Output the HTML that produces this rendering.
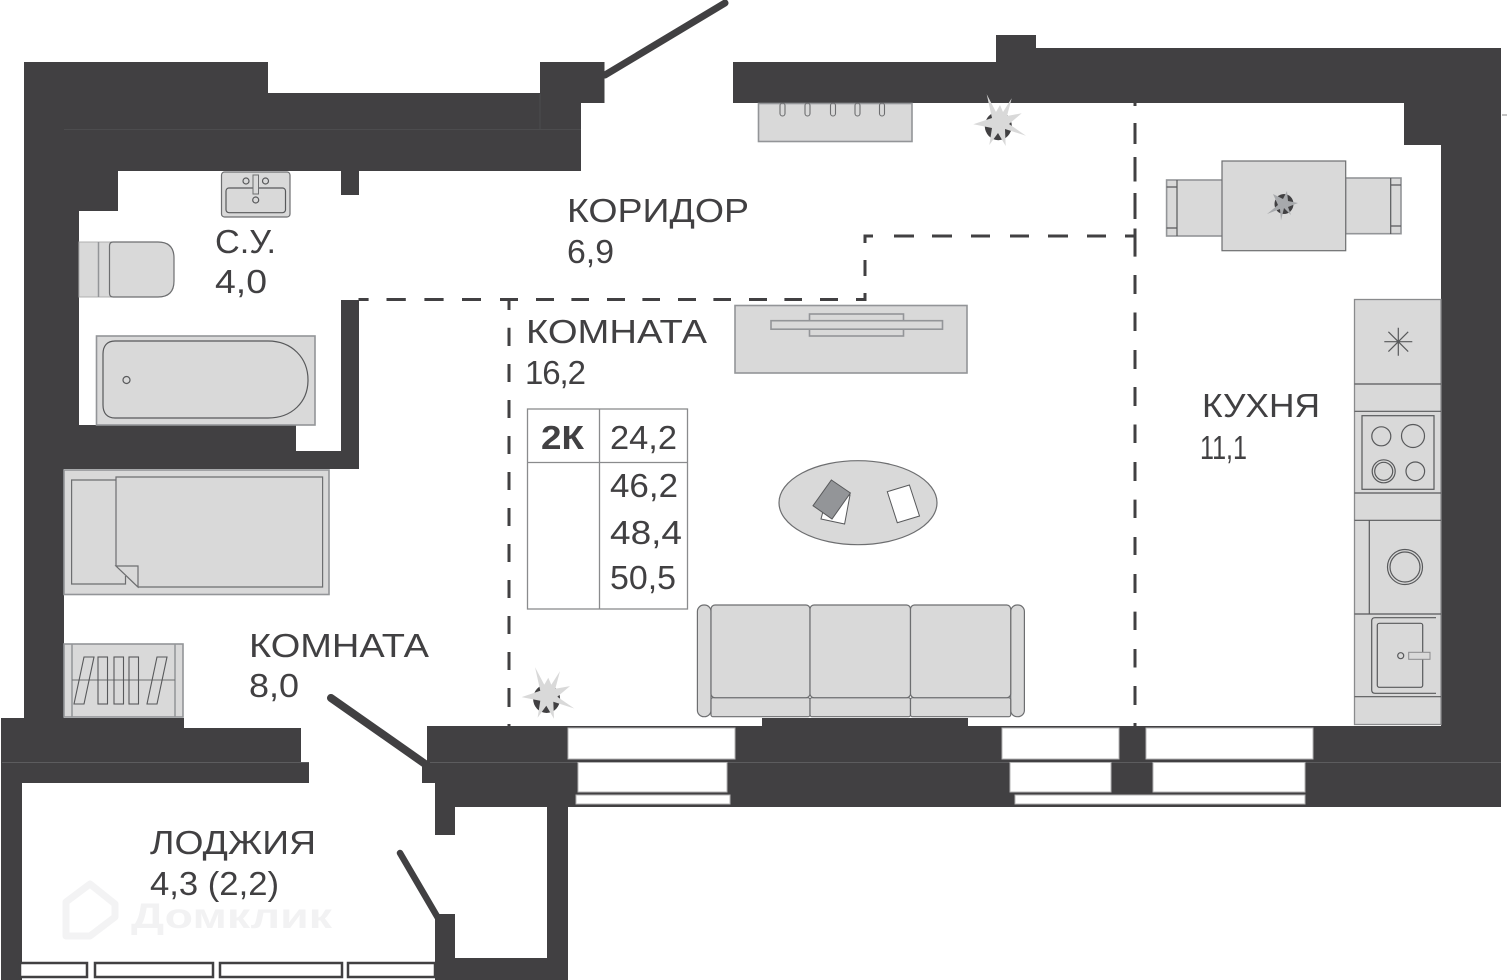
<!DOCTYPE html>
<html lang="ru">
<head>
<meta charset="utf-8">
<title>План квартиры</title>
<style>
html,body{margin:0;padding:0;background:#fff;width:1507px;height:980px;overflow:hidden}
svg{display:block}
text{font-family:"Liberation Sans","DejaVu Sans",sans-serif;fill:#414042;font-size:33px}
.f{fill:#d9d9d9;stroke:#6d6e70;stroke-width:1.2}
.l{fill:none;stroke:#58595b;stroke-width:1.2}
.e{fill:#d9d9d9;stroke:#939598;stroke-width:1.6}
.w{fill:#fff;stroke:#b5b5b5;stroke-width:1}
.d{fill:none;stroke:#414042;stroke-width:3}
</style>
</head>
<body>
<svg width="1507" height="980" viewBox="0 0 1507 980" xmlns="http://www.w3.org/2000/svg">
<!-- doors -->
<path d="M605 75L725 3" stroke="#414042" stroke-width="7" stroke-linecap="round" fill="none"/>
<path d="M331 698L428 766" stroke="#414042" stroke-width="8" stroke-linecap="round" fill="none"/>
<path d="M400 853L438 918" stroke="#414042" stroke-width="6.5" stroke-linecap="round" fill="none"/>

<!-- walls -->
<path fill="#414042" d="M24 62H268V93H540V62H604.5V103H581V171H359V195H341V171H118V211H79V425H296V451H341V300H359V469H64V718H184V728H301V762H309V783H22V980H1V718H24Z"/>
<path fill="#414042" d="M733 62H996V35H1036V48H1501V807H568V980H435V914H455V958H547V807H455V835H435V783H422V762H427V726H762V718H968V726H1441V145H1404V103H733Z"/>
<path d="M64 129.500H581M540 94V129" stroke="#4c4c4e" stroke-width="1" fill="none"/>
<path d="M2 762.500H309M430 762.500H1501" stroke="#5c5c5e" stroke-width="1" fill="none"/>
<path d="M1502 115H1507" stroke="#8a8a8a" stroke-width="1"/>

<!-- windows -->
<rect class="w" x="568" y="728" width="167" height="31"/>
<rect class="w" x="1002" y="728" width="117" height="31"/>
<rect class="w" x="1146" y="728" width="167" height="31"/>
<rect class="w" x="578" y="762.500" width="149" height="29.500"/>
<rect class="w" x="1010" y="762.500" width="101" height="29.500"/>
<rect class="w" x="1153" y="762.500" width="152" height="29.500"/>
<rect class="w" x="576" y="795" width="154" height="9"/>
<rect class="w" x="1015" y="795" width="290" height="9"/>

<!-- loggia windows -->
<g fill="#fff" stroke="#414042" stroke-width="2.500">
<rect x="20" y="963" width="67" height="14"/>
<rect x="95" y="963" width="118" height="14"/>
<rect x="220" y="963" width="122" height="14"/>
<rect x="348" y="963" width="87" height="14"/>
</g>

<!-- dashed partitions -->
<path class="d" d="M358.500 299.500H368.600M386.500 299.500H405.800M424.400 299.500H443.600M462 299.500H481M500 299.500H518M536 299.500H554M571.400 299.500H589M607 299.500H625M642.400 299.500H660M678 299.500H696M713.400 299.500H731M749 299.500H767M784.400 299.500H802M820 299.500H838M856 299.500H866.500"/>
<path class="d" d="M865 300V293M865 276V260M865 243V236H873"/>
<path class="d" d="M894 236H914M932 236H952M971 236H990M1010 236H1029M1048 236H1068M1087 236H1106M1125 236H1135"/>
<path class="d" d="M1135 103V106M1135 123V144M1135 157V181.500M1135 193V219M1135 228.500V256.600M1135 275V294M1135 312.500V331M1135 350V369M1135 387V406M1135 424.500V443M1135 462V481M1135 499.600V518M1135 537V555M1135 574V593M1135 611.600V630M1135 649V667.500M1135 686V705M1135 723V726"/>
<path class="d" d="M509 300V310M509 327.700V346M509 364V382M509 400V418M509 436V454M509 472V490M509 508V526M509 544V562M509 580V598M509 616V634M509 652V670M509 688V707M509 724V726"/>

<!-- sink -->
<rect class="f" x="221.500" y="172" width="68.500" height="45" rx="3"/>
<rect class="l" x="226" y="188" width="59.500" height="24.700" rx="3"/>
<rect x="253" y="175" width="5.500" height="19" fill="#d9d9d9" stroke="#6d6e70"/>
<circle class="l" cx="246" cy="181" r="3"/><circle class="l" cx="265.500" cy="181" r="3"/><circle class="l" cx="255.700" cy="200" r="3"/>

<!-- toilet -->
<rect x="79" y="242" width="40" height="55" fill="#d9d9d9" stroke="#b0b0b0"/>
<path d="M98.500 242V297" stroke="#939598" stroke-width="1.500"/>
<path class="f" d="M113 242H158Q174 242 174 258V281Q174 297 158 297H113Q109.500 297 109.500 293V246Q109.500 242 113 242Z"/>

<!-- bath -->
<rect class="e" x="96.500" y="336" width="218.500" height="89"/>
<path class="l" d="M115 341H268C292 341 308 358 308 380C308 402 292 418 268 418H115C107 418 103 413 103 405V354C103 346 107 341 115 341Z"/>
<circle class="l" cx="126.500" cy="380" r="3.500"/>

<!-- bed -->
<rect class="e" x="64" y="470" width="265" height="124.500"/>
<path class="f" d="M116 480H71.600V584H125.500V576"/>
<path class="f" d="M116 477H322.600V587H138L116 566Z"/>
<path class="f" d="M116 566H138V587Z"/>

<!-- dryer -->
<rect class="e" x="64" y="644" width="119" height="73"/>
<path d="M72 644V717M175 644V717" stroke="#939598" stroke-width="1.500"/>
<path d="M72 680H175" stroke="#6d6e70" stroke-width="1"/>
<g fill="none" stroke="#58595b" stroke-width="1.100">
<path d="M84 657H94L84 704H74Z"/>
<rect x="98" y="657" width="9.500" height="47"/>
<rect x="114" y="657" width="9.500" height="47"/>
<rect x="129" y="657" width="9.500" height="47"/>
<path d="M157 657H167L157 704H147Z"/>
</g>

<!-- shelf -->
<rect class="e" x="758.500" y="103.500" width="153.500" height="38"/>
<g fill="none" stroke="#6d6e70" stroke-width="1.100">
<rect x="780" y="103" width="5" height="13" rx="2.500"/>
<rect x="805" y="103" width="5" height="13" rx="2.500"/>
<rect x="830.500" y="103" width="5" height="13" rx="2.500"/>
<rect x="855" y="103" width="5" height="13" rx="2.500"/>
<rect x="879.500" y="103" width="5" height="13" rx="2.500"/>
</g>

<!-- plants -->
<ellipse cx="998.300" cy="126" rx="13.500" ry="14.200" fill="#414042"/>
<path fill="#d9d9d9" d="M986.700 94.300L996 112L1000 105L1003 112L1011.700 98.300L1007 116L1021.700 113.300L1009 124L1026 135.700L1005 129L1005.700 146L998 133L989.300 145L992 128L973.300 124.300L992 118Z"/>
<ellipse cx="546.600" cy="698.800" rx="13.500" ry="14.200" fill="#414042"/>
<path fill="#d9d9d9" d="M535 667.100L544.300 684.800L548.300 677.800L551.300 684.800L560 671.100L555.300 688.800L570 686.100L557.300 696.800L574.300 708.500L553.300 701.800L554 718.800L546.300 705.800L537.600 717.800L540.300 700.800L521.600 697.100L540.300 690.800Z"/>

<!-- dining set -->
<rect class="e" x="1166.600" y="180" width="56" height="56" stroke="#6d6e70"/>
<path class="l" d="M1177 180V236M1166.600 187H1177M1166.600 228H1177"/>
<rect class="e" x="1345.500" y="178" width="55.500" height="55.700"/>
<path class="l" d="M1390.700 178V234M1390.700 185H1401M1390.700 226H1401"/>
<rect class="f" x="1222" y="161" width="123.700" height="89.700"/>
<ellipse cx="1284" cy="204" rx="9.500" ry="10" fill="#414042"/>
<path fill="#a7a9ac" d="M1273 194L1283 199L1287 191L1288 201L1298 203L1288 207L1291 215L1284 208L1281 220.500L1280 209L1267 214L1278 205Z"/>

<!-- tv -->
<rect class="e" x="735" y="305.500" width="232" height="67.500" stroke="#6d6e70"/>
<rect class="e" x="809.500" y="314" width="94" height="22" stroke="#6d6e70"/>
<rect class="e" x="771" y="320.700" width="171.500" height="8.500" stroke="#6d6e70"/>

<!-- coffee table -->
<ellipse class="f" cx="858" cy="502.700" rx="79" ry="42"/>
<path fill="#fff" stroke="#58595b" d="M850 495L844.600 524L821 519L826 500Z"/>
<path fill="#939598" stroke="#58595b" d="M831.400 480L850.400 493L832 519L813 505.700Z"/>
<path fill="#fff" stroke="#58595b" d="M909.400 485L919.500 516L897.300 522.700L887.300 491.700Z"/>

<!-- sofa -->
<rect class="f" x="697.400" y="605" width="13.600" height="111.700" rx="6.500"/>
<rect class="f" x="1010.700" y="605" width="13.700" height="111.700" rx="6.500"/>
<rect class="f" x="711" y="697.700" width="99" height="19" rx="2"/>
<rect class="f" x="810" y="697.700" width="100.500" height="19" rx="2"/>
<rect class="f" x="910.500" y="697.700" width="100.200" height="19" rx="2"/>
<rect class="f" x="711" y="605" width="99" height="92.700" rx="4"/>
<rect class="f" x="810" y="605" width="100.500" height="92.700" rx="4"/>
<rect class="f" x="910.500" y="605" width="100.200" height="92.700" rx="4"/>

<!-- kitchen -->
<rect x="1354.500" y="299.500" width="86.500" height="425" fill="#d9d9d9" stroke="#8a8b8d" stroke-width="1.300"/>
<path class="l" d="M1354.500 384H1441" stroke-width="1.800"/>
<path class="l" d="M1354.500 411.300H1441M1354.500 493H1441M1354.500 520.300H1441M1369.300 520.300V614M1354.500 614H1441M1354.500 696.700H1441"/>
<path class="l" d="M1384.300 341.700H1412.300M1398.300 327.700V355.700M1388.400 331.800L1408.200 351.600M1388.400 351.600L1408.200 331.800" stroke-width="1"/>
<rect class="l" x="1362" y="415.700" width="72" height="73.600" stroke-width="1.300"/>
<circle class="l" cx="1381.300" cy="436.300" r="9.500"/><circle class="l" cx="1413" cy="436" r="11.500"/>
<circle class="l" cx="1383.700" cy="471.300" r="11.500"/><circle class="l" cx="1383.700" cy="471.300" r="9"/><circle class="l" cx="1415.300" cy="471.300" r="9.300"/>
<circle class="l" cx="1405" cy="567" r="17.500"/><circle class="l" cx="1405" cy="567" r="15"/>
<path class="l" d="M1436 617.700H1375Q1371.700 617.700 1371.700 621V690Q1371.700 693.300 1375 693.300H1436"/>
<rect class="l" x="1377.300" y="623.300" width="45.400" height="64" rx="2"/>
<circle class="l" cx="1400.700" cy="655.700" r="3"/>
<rect x="1408.700" y="652.300" width="21.300" height="7" fill="#d9d9d9" stroke="#8a8b8d"/>

<!-- area table -->
<g fill="none" stroke="#8a8b8d" stroke-width="1.300">
<rect x="527.500" y="409" width="160" height="200"/>
<path d="M599.500 409V609M527.500 462.500H687.500"/>
</g>

<!-- labels -->
<text x="567" y="222" textLength="182" lengthAdjust="spacingAndGlyphs">КОРИДОР</text>
<text x="567" y="263" textLength="47" lengthAdjust="spacingAndGlyphs">6,9</text>
<text x="215" y="253" textLength="61" lengthAdjust="spacingAndGlyphs">С.У.</text>
<text x="215" y="293" textLength="52" lengthAdjust="spacingAndGlyphs">4,0</text>
<text x="526" y="343" textLength="181" lengthAdjust="spacingAndGlyphs">КОМНАТА</text>
<text x="525" y="384" textLength="61" lengthAdjust="spacing">16,2</text>
<text x="1202" y="417" textLength="118" lengthAdjust="spacingAndGlyphs">КУХНЯ</text>
<text x="1200" y="459" textLength="47" lengthAdjust="spacingAndGlyphs">11,1</text>
<text x="249" y="657" textLength="180" lengthAdjust="spacingAndGlyphs">КОМНАТА</text>
<text x="249" y="697" textLength="50" lengthAdjust="spacingAndGlyphs">8,0</text>
<text x="150" y="854" textLength="166" lengthAdjust="spacingAndGlyphs">ЛОДЖИЯ</text>
<text x="150" y="895" textLength="129" lengthAdjust="spacingAndGlyphs">4,3 (2,2)</text>
<text x="541" y="449" textLength="43" lengthAdjust="spacingAndGlyphs" font-weight="bold">2К</text>
<text x="610" y="449" textLength="67" lengthAdjust="spacingAndGlyphs">24,2</text>
<text x="610" y="497" textLength="68" lengthAdjust="spacingAndGlyphs">46,2</text>
<text x="610" y="544" textLength="72" lengthAdjust="spacingAndGlyphs">48,4</text>
<text x="610" y="589" textLength="66" lengthAdjust="spacingAndGlyphs">50,5</text>

<!-- watermark -->
<path d="M90 884L115 904V917L90 936H66V902Z" fill="none" stroke="#f3f3f4" stroke-width="7" stroke-linejoin="round"/>
<text x="131" y="928" textLength="201" lengthAdjust="spacingAndGlyphs" font-weight="bold" style="fill:#f2f2f3;font-size:35px">Домклик</text>
</svg>
</body>
</html>
